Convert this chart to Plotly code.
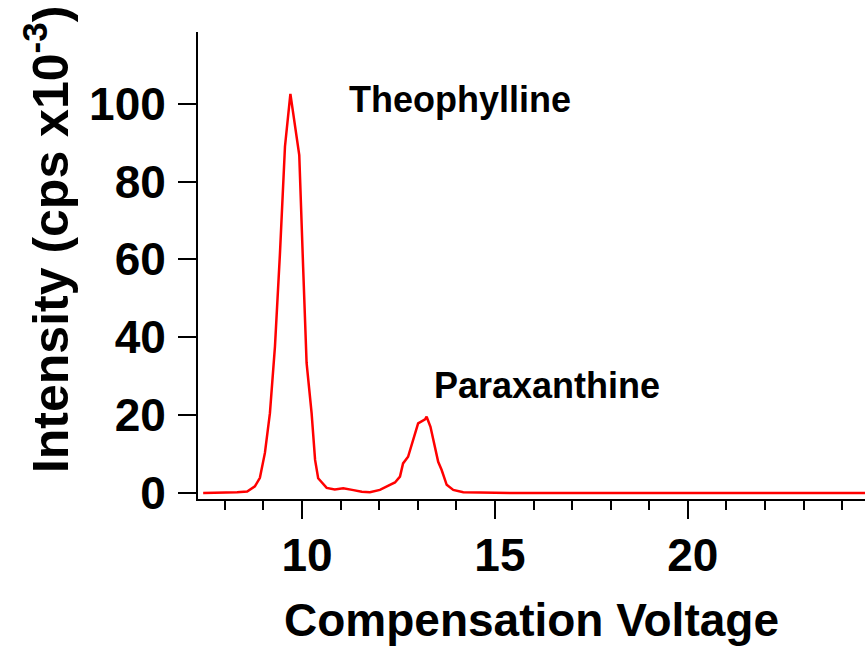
import plotly.graph_objects as go

# Compensation voltage (x) and intensity (cps x10^-3)
cv = [7.44, 8.0, 8.32, 8.58, 8.78, 8.91, 9.04, 9.17, 9.30, 9.43, 9.56, 9.70,
      9.93, 10.03, 10.12, 10.25, 10.34, 10.42, 10.64, 10.85, 11.07, 11.30,
      11.55, 11.76, 12.02, 12.28, 12.41, 12.54, 12.62, 12.75, 12.88, 13.01,
      13.19, 13.23, 13.33, 13.53, 13.62, 13.75, 13.92, 14.18, 14.61, 15.39,
      18.0, 21.0, 24.6]
intensity = [0.0, 0.1, 0.2, 0.4, 1.7, 3.9, 10.3, 20.5, 37.6, 61.6, 89.0, 102.5,
             86.8, 58.1, 33.4, 20.5, 8.5, 3.8, 1.3, 0.9, 1.2, 0.8,
             0.3, 0.2, 0.8, 2.1, 2.7, 4.2, 7.6, 9.3, 13.6, 17.9,
             18.9, 19.6, 17.0, 8.0, 5.9, 2.1, 0.8, 0.2, 0.1, 0.0,
             0.0, 0.0, 0.0]

x_ticks = [10, 15, 20]
y_ticks = [0, 20, 40, 60, 80, 100]
peak_labels = ["Theophylline", "Paraxanthine"]
peak_label_pos = [(14.1, 101.0), (16.35, 27.7)]
y_title = "Intensity (cps x10<sup>-3</sup>)"
x_title = "Compensation Voltage"

FONT = "Liberation Sans"

fig = go.Figure()
fig.add_trace(go.Scatter(x=cv, y=intensity, mode="lines",
                         line=dict(color="#ff0000", width=2.5), hoverinfo="skip"))

for text, (px, py) in zip(peak_labels, peak_label_pos):
    fig.add_annotation(x=px, y=py, text=text, showarrow=False,
                       xanchor="center", yanchor="middle",
                       font=dict(family=FONT, size=36, color="black", weight="bold"))

# y-axis title placed as a rotated annotation (sits higher than plot centre)
fig.add_annotation(xref="paper", yref="paper", x=-0.226, y=0.555,
                   text=y_title, textangle=-90, showarrow=False,
                   xanchor="center", yanchor="middle",
                   font=dict(family=FONT, size=50, color="black", weight="bold"))

fig.update_layout(
    width=865, height=647,
    margin=dict(l=198, r=0, t=32, b=148),
    paper_bgcolor="white", plot_bgcolor="white",
    showlegend=False,
    xaxis=dict(
        range=[7.306, 24.59], showgrid=False, zeroline=False, automargin=False,
        showline=True, linecolor="black", linewidth=2,
        tickmode="array", tickvals=x_ticks, ticktext=[str(v) for v in x_ticks],
        ticks="outside", ticklen=18, tickwidth=2, tickcolor="black",
        ticklabelshift=5, ticklabelstandoff=-3,
        tickfont=dict(family=FONT, size=46, color="black", weight="bold"),
        minor=dict(dtick=1, tick0=0, ticks="outside", ticklen=9, tickwidth=2, tickcolor="black"),
        title=dict(text=x_title, standoff=24,
                   font=dict(family=FONT, size=46, color="black", weight="bold")),
    ),
    yaxis=dict(
        range=[-1.54, 118.4], showgrid=False, zeroline=False, automargin=False,
        showline=True, linecolor="black", linewidth=2,
        tickmode="array", tickvals=y_ticks, ticktext=[str(v) for v in y_ticks],
        ticks="outside", ticklen=18, tickwidth=2, tickcolor="black",
        ticklabelstandoff=3,
        tickfont=dict(family=FONT, size=46, color="black", weight="bold"),
    ),
)

fig.write_html("out.html", config={"displayModeBar": False},
               post_script="document.body.style.margin='0';")
